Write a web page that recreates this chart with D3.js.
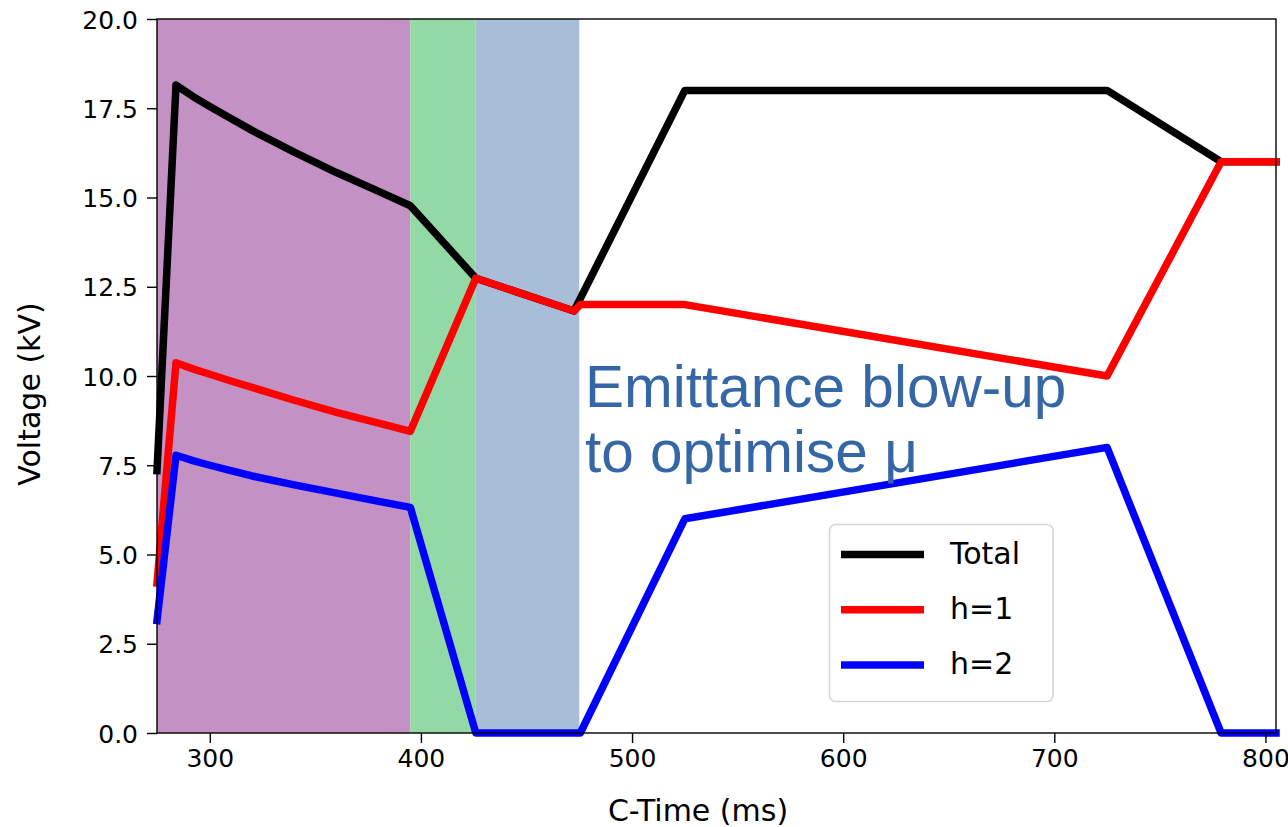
<!DOCTYPE html>
<html>
<head>
<meta charset="utf-8">
<script src="https://cdn.jsdelivr.net/npm/d3@7/dist/d3.min.js"></script>
<style>
  html, body { margin: 0; padding: 0; background: #fff; }
  svg { display: block; }
  text { font-family: "DejaVu Sans", sans-serif; fill: #000; }
</style>
</head>
<body>
<svg id="chart" width="1288" height="827"></svg>
<script>
// Cycle time (ms) at which each voltage programme point is set
const times = [275, 284, 292, 300, 310, 320, 340, 360, 380, 395, 426, 472.5, 475.5, 525, 725, 779, 805];

// RF voltage programmes (kV)
const totalV = [7.35, 18.15, 17.83, 17.55, 17.21, 16.88, 16.27, 15.70, 15.17, 14.77, 12.74, 11.82, 12.17, 18.0, 18.0, 16.0, 16.0];
const h1V    = [4.20, 10.37, 10.20, 10.05,  9.86,  9.68,  9.32,  8.98,  8.68,  8.45, 12.74, 11.82, 12.00, 12.0, 10.0, 16.0, 16.0];
const h2V    = [3.15,  7.78,  7.63,  7.50,  7.35,  7.20,  6.95,  6.72,  6.49,  6.32,  0.00,  0.00,  0.00,  6.0,  8.0,  0.0,  0.0];

// Shaded phases of the cycle (ms)
const phaseStarts = [275, 395, 426];
const phaseEnds   = [395, 426, 475];
const phaseColors = ["#c391c3", "#93d9a6", "#a8bdd8"];

const seriesNames  = ["Total", "h=1", "h=2"];
const seriesColors = ["#000000", "#ff0000", "#0000ff"];
const seriesValues = [totalV, h1V, h2V];

const xTicks = [300, 400, 500, 600, 700, 800];
const yTicks = [0, 2.5, 5, 7.5, 10, 12.5, 15, 17.5, 20];

const annotationLines = ["Emittance blow-up", "to optimise μ"];

const svg = d3.select("#chart");
const plot = { left: 157, right: 1276, top: 19, bottom: 733 };

const x = d3.scaleLinear().domain([275, 805]).range([plot.left, plot.right]);
const y = d3.scaleLinear().domain([0, 20]).range([plot.bottom, plot.top]);

// Phase bands
svg.append("g").selectAll("rect")
  .data(phaseStarts.map((s, i) => ({ s, e: phaseEnds[i], c: phaseColors[i] })))
  .join("rect")
  .attr("x", d => x(d.s))
  .attr("y", plot.top)
  .attr("width", d => x(d.e) - x(d.s))
  .attr("height", plot.bottom - plot.top)
  .attr("fill", d => d.c);

// Voltage curves
const line = d3.line().x(d => x(d[0])).y(d => y(d[1]));
svg.append("g").selectAll("path")
  .data(seriesValues.map((vals, i) => ({ pts: times.map((t, j) => [t, vals[j]]), c: seriesColors[i] })))
  .join("path")
  .attr("d", d => line(d.pts))
  .attr("fill", "none")
  .attr("stroke", d => d.c)
  .attr("stroke-width", 7.5)
  .attr("stroke-linejoin", "round")
  .attr("stroke-linecap", "square");

// Axes
const xAxis = svg.append("g")
  .attr("transform", `translate(0,${plot.bottom})`)
  .call(d3.axisBottom(x).tickValues(xTicks).tickSize(10).tickPadding(6).tickFormat(d3.format("d")));
const yAxis = svg.append("g")
  .attr("transform", `translate(${plot.left},0)`)
  .call(d3.axisLeft(y).tickValues(yTicks).tickSize(10).tickPadding(9).tickFormat(d3.format(".1f")));

[xAxis, yAxis].forEach(g => {
  g.select(".domain").remove();
  g.selectAll(".tick line").attr("stroke", "#000").attr("stroke-width", 1.4);
  g.selectAll(".tick text").attr("font-size", 25).attr("font-family", "DejaVu Sans").attr("fill", "#000");
});
yAxis.selectAll(".tick text").attr("dy", "0.36em");

// Frame
svg.append("rect")
  .attr("x", plot.left).attr("y", plot.top)
  .attr("width", plot.right - plot.left).attr("height", plot.bottom - plot.top)
  .attr("fill", "none").attr("stroke", "#000").attr("stroke-width", 1.4);

// Axis titles
svg.append("text")
  .attr("x", 698).attr("y", 821)
  .attr("text-anchor", "middle")
  .attr("font-size", 30)
  .text("C-Time (ms)");
svg.append("text")
  .attr("transform", "translate(40,394) rotate(-90)")
  .attr("text-anchor", "middle")
  .attr("font-size", 30)
  .text("Voltage (kV)");

// Annotation
svg.append("g").selectAll("text")
  .data(annotationLines)
  .join("text")
  .attr("x", 585)
  .attr("y", (d, i) => 407 + i * 65)
  .attr("font-size", 58.5)
  .style("font-family", "'Liberation Sans', Arial, sans-serif")
  .style("fill", "#3566a5")
  .text(d => d);

// Legend
const legend = svg.append("g");
legend.append("rect")
  .attr("x", 829.5).attr("y", 524.5)
  .attr("width", 223.5).attr("height", 177)
  .attr("rx", 6).attr("ry", 6)
  .attr("fill", "#fff").attr("fill-opacity", 0.8)
  .attr("stroke", "#d6d6d6").attr("stroke-width", 1.6);
const items = legend.selectAll("g.item")
  .data(seriesNames.map((n, i) => ({ n, c: seriesColors[i], i })))
  .join("g").attr("class", "item")
  .attr("transform", d => `translate(0,${554.5 + d.i * 55.3})`);
items.append("line")
  .attr("x1", 841).attr("x2", 924)
  .attr("stroke", d => d.c).attr("stroke-width", 7.5);
items.append("text")
  .attr("x", 950).attr("y", 9)
  .attr("font-size", 30)
  .text(d => d.n);
</script>
</body>
</html>
